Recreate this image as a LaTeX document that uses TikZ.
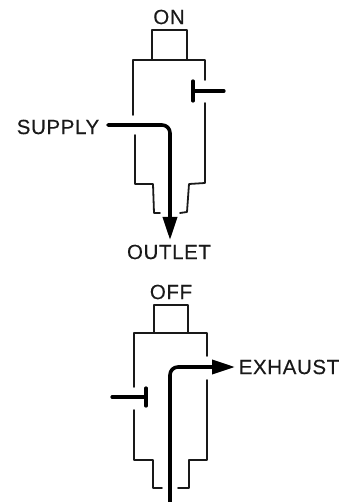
\documentclass[tikz,border=0pt]{standalone}
\usepackage{fontspec}
\setmainfont{Liberation Sans}
\newfontfamily\labfont[FakeBold=0.3,LetterSpace=3]{Liberation Sans}
\usetikzlibrary{arrows.meta}
\tikzset{
  wall/.style={line width=1.8pt,black!90,line cap=round,line join=round},
  flow/.style={line width=3.6pt,black,rounded corners=8pt,line cap=round,-{Triangle[length=23pt,width=14pt]}},
  plunger/.style={line width=3.2pt,black,line cap=round},
  lab/.style={font=\labfont\fontsize{20.5}{22}\selectfont,inner sep=0pt,text=black!90}
}
\begin{document}
\begin{tikzpicture}[x=1pt,y=-1pt]
\useasboundingbox (0,0) rectangle (356,502);
% ON valve
\node[lab] (on) at (169,17) {ON};
\node[lab] (supply) at (58,127) {SUPPLY};
\node[lab] (outlet) at (169,252) {OUTLET};
\draw[wall] (152,60) -- (152,30) -- (187,30) -- (187,60);
\draw[wall] (133,115) -- (133,60) -- (205,60) -- (205,80);
\draw[wall] (135,135) -- (135,184) -- (153,184) -- (154,213) -- (160,213);
\draw[wall] (205,103) -- (205,183) -- (189,184) -- (187,212) -- (180,213);
\coordinate (bar1a) at (193,81); \coordinate (bar1b) at (193,101);
\coordinate (stem1) at (224,91);
\draw[plunger] (bar1a) -- (bar1b);
\draw[plunger] (193,91) -- (stem1);
\coordinate (sup) at (108,125); \coordinate (out) at (170,240);
\draw[flow] (sup) -- (170,125) -- (out);
% OFF valve
\node[lab] (off) at (171,292) {OFF};
\node[lab] (exhaust) at (289,367) {EXHAUST};
\draw[wall] (154,332) -- (154,305) -- (188,305) -- (188,332);
\draw[wall] (134,387) -- (134,333) -- (207,333) -- (207,356);
\draw[wall] (134,410) -- (134,460) -- (153,460) -- (153,488) -- (162,488);
\draw[wall] (207,380) -- (207,460) -- (189,460) -- (189,488) -- (178,488);
\coordinate (bar2a) at (146,388); \coordinate (bar2b) at (146,406);
\coordinate (stem2) at (112,397);
\draw[plunger] (bar2a) -- (bar2b);
\draw[plunger] (146,397) -- (stem2);
\coordinate (in2) at (170,502); \coordinate (exh) at (235,367);
\draw[flow,line cap=butt] (in2) -- (170,367) -- (exh);
\end{tikzpicture}
\end{document}
